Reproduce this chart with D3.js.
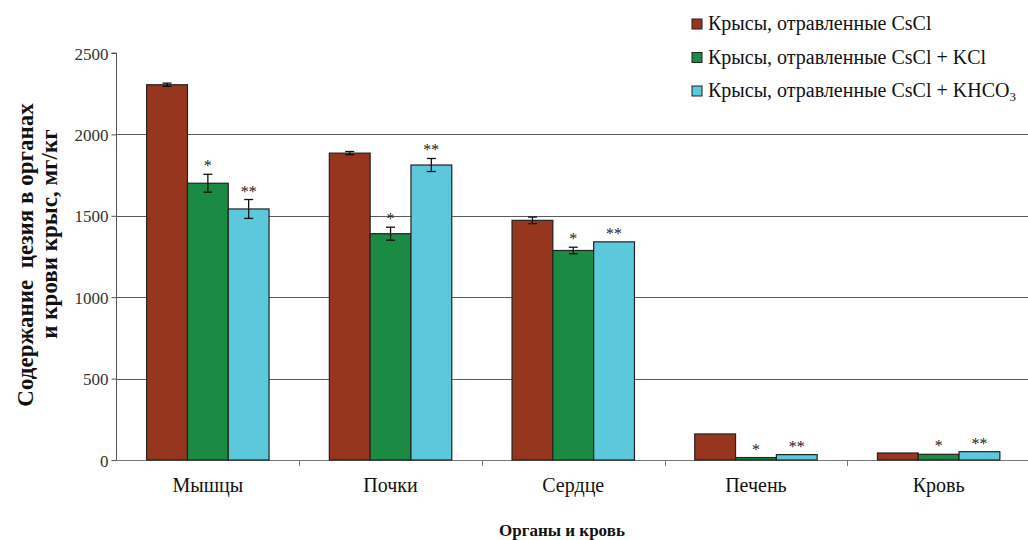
<!DOCTYPE html>
<html>
<head>
<meta charset="utf-8">
<script src="https://cdn.jsdelivr.net/npm/d3@7"></script>
<style>
  html, body { margin: 0; padding: 0; background: #fff; }
  svg { display: block; }
</style>
</head>
<body>
<svg id="chart" width="1028" height="540"></svg>
<script>
// Caesium content in rat organs and blood (mg/kg)
const categories = ["Мышцы", "Почки", "Сердце", "Печень", "Кровь"];
const seriesNames = ["Крысы, отравленные CsCl", "Крысы, отравленные CsCl + KCl", "Крысы, отравленные CsCl + KHCO3"];
const valuesCsCl   = [2305, 1885, 1472, 160, 43];
const valuesKCl    = [1700, 1390, 1287, 15, 35];
const valuesKHCO3  = [1542, 1812, 1340, 33, 51];
const errorsCsCl   = [10, 10, 20, 0, 0];
const errorsKCl    = [55, 40, 20, 0, 0];
const errorsKHCO3  = [58, 40, 0, 0, 0];
const marksCsCl    = ["", "", "", "", ""];
const marksKCl     = ["*", "*", "*", "*", "*"];
const marksKHCO3   = ["**", "**", "**", "**", "**"];
const yTicks = [0, 500, 1000, 1500, 2000, 2500];
const colors = ["#96361f", "#1b8a42", "#5bc8dc"];

const series = [
  { name: seriesNames[0], values: valuesCsCl,  errors: errorsCsCl,  marks: marksCsCl },
  { name: seriesNames[1], values: valuesKCl,   errors: errorsKCl,   marks: marksKCl },
  { name: seriesNames[2], values: valuesKHCO3, errors: errorsKHCO3, marks: marksKHCO3 }
];

const svg = d3.select("#chart");
const serif = "'Liberation Serif', 'Times New Roman', serif";

const plotLeft = 116.5, plotRight = 1030, plotTop = 53, plotBottom = 460;

const y = d3.scaleLinear().domain([0, 2500]).range([plotBottom, plotTop]);
const x0 = d3.scaleBand().domain(categories).range([plotLeft, plotRight])
  .paddingInner(0.33).paddingOuter(0.165);
const x1 = d3.scaleBand().domain(d3.range(series.length)).range([0, x0.bandwidth()]);

// horizontal gridlines (no line at the top value)
svg.append("g").selectAll("line")
  .data(yTicks.filter(t => t > 0 && t < 2500))
  .join("line")
  .attr("x1", plotLeft).attr("x2", 1028)
  .attr("y1", d => Math.round(y(d)) + 0.5).attr("y2", d => Math.round(y(d)) + 0.5)
  .attr("stroke", "#5a5a5a").attr("stroke-width", 1);

// y axis
const yAxis = svg.append("g")
  .attr("transform", `translate(${plotLeft},0)`)
  .call(d3.axisLeft(y).tickValues(yTicks).tickFormat(d3.format("d")).tickSize(5).tickPadding(3));
yAxis.attr("font-family", serif).attr("font-size", 17);
yAxis.selectAll("text").attr("fill", "#333").attr("dy", "0.36em");
yAxis.selectAll("line, path").attr("stroke", "#555");
yAxis.select(".domain").attr("d", `M-5,${plotTop}H0V${plotBottom}`);

// x axis with ticks at band boundaries
const xAxis = svg.append("g").attr("transform", `translate(0,${plotBottom})`);
xAxis.append("line").attr("x1", plotLeft).attr("x2", 1028).attr("y1", 0.5).attr("y2", 0.5)
  .attr("stroke", "#777");
const step = x0.step();
xAxis.selectAll("line.tick")
  .data(categories.slice(1))
  .join("line").attr("class", "tick")
  .attr("x1", d => Math.round(x0(d) - step * x0.paddingInner() / 2) + 0.5)
  .attr("x2", d => Math.round(x0(d) - step * x0.paddingInner() / 2) + 0.5)
  .attr("y1", 0).attr("y2", 6).attr("stroke", "#777");
xAxis.selectAll("text")
  .data(categories)
  .join("text")
  .attr("x", d => x0(d) + x0.bandwidth() / 2)
  .attr("y", 32)
  .attr("text-anchor", "middle")
  .attr("font-family", serif).attr("font-size", 20).attr("fill", "#111")
  .text(d => d);

// bars
const groups = svg.append("g").selectAll("g")
  .data(series)
  .join("g");

groups.each(function(s, si) {
  const g = d3.select(this);
  categories.forEach((c, ci) => {
    const v = s.values[ci];
    const bx = x0(c) + x1(si);
    g.append("rect")
      .attr("x", bx).attr("y", y(v))
      .attr("width", x1.bandwidth()).attr("height", y(0) - y(v))
      .attr("fill", colors[si]).attr("stroke", "#222").attr("stroke-width", 1.2);
    const e = s.errors[ci];
    const cx = bx + x1.bandwidth() / 2;
    if (e > 0) {
      const eb = g.append("g").attr("stroke", "#111").attr("stroke-width", 1.3);
      eb.append("line").attr("x1", cx).attr("x2", cx).attr("y1", y(v + e)).attr("y2", y(v - e));
      eb.append("line").attr("x1", cx - 4.5).attr("x2", cx + 4.5).attr("y1", y(v + e)).attr("y2", y(v + e));
      eb.append("line").attr("x1", cx - 4.5).attr("x2", cx + 4.5).attr("y1", y(v - e)).attr("y2", y(v - e));
    }
    if (s.marks[ci]) {
      g.append("text")
        .attr("x", cx).attr("y", y(v + e) - 3)
        .attr("text-anchor", "middle")
        .attr("font-family", serif).attr("font-size", 16).attr("fill", "#222")
        .text(s.marks[ci]);
    }
  });
});

// legend
const legend = svg.append("g");
series.forEach((s, i) => {
  const ly = 24 + i * 33.5;
  legend.append("rect").attr("x", 692).attr("y", ly - 5).attr("width", 10).attr("height", 10)
    .attr("fill", colors[i]).attr("stroke", "#222").attr("stroke-width", 1);
  const t = legend.append("text").attr("x", 708).attr("y", ly + 6)
    .attr("font-family", serif).attr("font-size", 20).attr("fill", "#111");
  if (s.name.endsWith("KHCO3")) {
    t.append("tspan").text(s.name.slice(0, -1));
    t.append("tspan").attr("font-size", 13).attr("dy", 4).text("3");
  } else {
    t.text(s.name);
  }
});

// axis titles (two rotated lines)
svg.append("text")
  .attr("transform", "translate(33,255) rotate(-90)")
  .attr("text-anchor", "middle")
  .attr("font-family", serif).attr("font-weight", "bold").attr("font-size", 23).attr("fill", "#111")
  .attr("xml:space", "preserve")
  .text("Содержание  цезия в органах");
svg.append("text")
  .attr("transform", "translate(57,234) rotate(-90)")
  .attr("text-anchor", "middle")
  .attr("font-family", serif).attr("font-weight", "bold").attr("font-size", 23).attr("fill", "#111")
  .text("и крови крыс, мг/кг");

svg.append("text")
  .attr("x", 562).attr("y", 536)
  .attr("text-anchor", "middle")
  .attr("font-family", serif).attr("font-weight", "bold").attr("font-size", 17).attr("fill", "#111")
  .text("Органы и кровь");
</script>
</body>
</html>
